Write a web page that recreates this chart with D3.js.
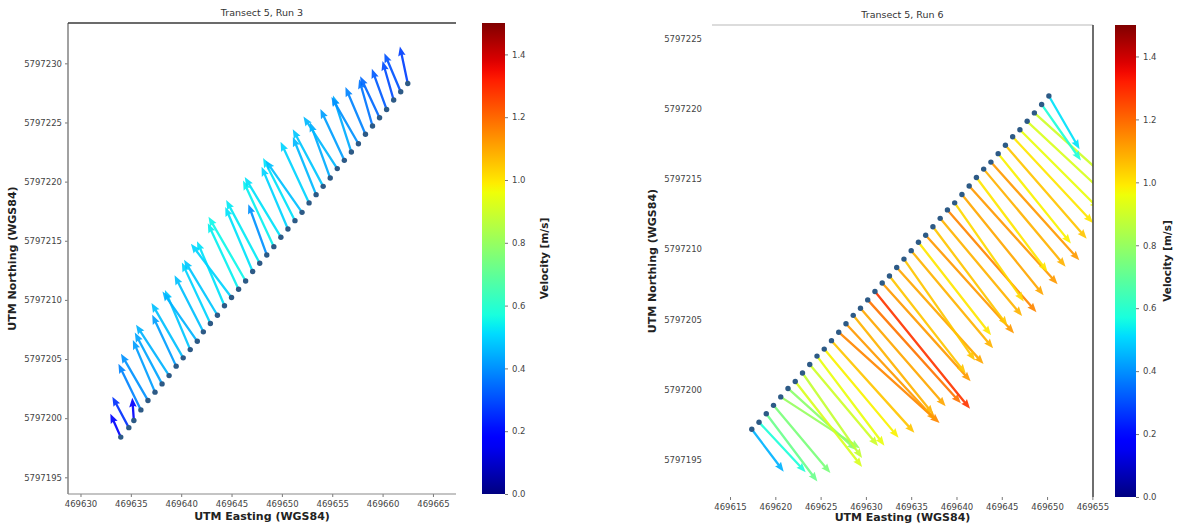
<!DOCTYPE html>
<html>
<head>
<meta charset="utf-8">
<script src="https://cdn.jsdelivr.net/npm/d3@7"></script>
<style>
  html, body { margin: 0; padding: 0; background: #fff; }
  svg { display: block; font-family: "DejaVu Sans", sans-serif; }
</style>
</head>
<body>
<svg id="chart" width="1180" height="529"></svg>
<script>
// ---------------- DATA ----------------
const titles = ["Transect 5, Run 3", "Transect 5, Run 6"];
const xLabel = "UTM Easting (WGS84)";
const yLabel = "UTM Northing (WGS84)";
const cbLabel = "Velocity [m/s]";

// Left panel (Run 3): tail positions (easting, northing), speed [m/s], bearing [deg from north]
const leftEast = [469634.0, 469634.8, 469635.3,
  469636.0, 469636.7, 469637.4, 469638.1, 469638.8, 469639.5, 469640.2, 469640.9, 469641.6, 469642.2,
  469642.9, 469643.6, 469644.3, 469645.0, 469645.7, 469646.4, 469647.1, 469647.8, 469648.5, 469649.2,
  469649.9, 469650.6, 469651.3, 469652.0, 469652.7, 469653.4, 469654.1, 469654.8, 469655.5, 469656.2,
  469656.9, 469657.6, 469658.3, 469659.0, 469659.7, 469660.4, 469661.1, 469661.8, 469662.5];
const leftNorth = [5797198.4, 5797199.2, 5797199.8,
  5797200.7, 5797201.5, 5797202.2, 5797202.9, 5797203.6, 5797204.4, 5797205.1, 5797205.8, 5797206.5, 5797207.3,
  5797208.0, 5797208.7, 5797209.5, 5797210.2, 5797210.9, 5797211.6, 5797212.4, 5797213.1, 5797213.8, 5797214.5,
  5797215.3, 5797216.0, 5797216.7, 5797217.4, 5797218.2, 5797218.9, 5797219.6, 5797220.3, 5797221.1, 5797221.8,
  5797222.5, 5797223.2, 5797224.0, 5797224.7, 5797225.4, 5797226.1, 5797226.9, 5797227.6, 5797228.3];
const leftSpeed = [0.19, 0.26, 0.17,
  0.38, 0.40, 0.42, 0.43, 0.45, 0.42, 0.47, 0.48, 0.45, 0.47,
  0.50, 0.48, 0.52, 0.50, 0.54, 0.55, 0.52, 0.53, 0.40, 0.54,
  0.52, 0.50, 0.52, 0.47, 0.50, 0.46, 0.48, 0.44, 0.46, 0.42,
  0.44, 0.40, 0.38, 0.36, 0.34, 0.32, 0.30, 0.31, 0.28];
const leftBearing = [336, 332, 356,
  334, 330, 337, 332, 327, 335, 330, 337, 325, 333,
  335, 329, 337, 323, 335, 330, 337, 332, 340, 335,
  329, 337, 333, 325, 335, 338, 332, 340, 327, 335,
  342, 330, 337, 344, 335, 340, 344, 337, 348];

// Right panel (Run 6)
const rightEast = [469617.4, 469618.2, 469619.0, 469619.8, 469620.6, 469621.4, 469622.2, 469623.0, 469623.8,
  469624.6, 469625.4, 469626.2, 469627.0, 469627.8, 469628.6, 469629.4, 469630.2, 469631.0, 469631.8,
  469632.6, 469633.4, 469634.2, 469635.0, 469635.8, 469636.6, 469637.4, 469638.2, 469639.0, 469639.8,
  469640.6, 469641.4, 469642.2, 469643.0, 469643.8, 469644.6, 469645.4, 469646.2, 469647.0, 469647.8,
  469648.6, 469649.4, 469650.2];
const rightNorth = [5797197.2, 5797197.7, 5797198.3, 5797198.9, 5797199.5, 5797200.1, 5797200.6, 5797201.2, 5797201.8,
  5797202.4, 5797202.9, 5797203.5, 5797204.1, 5797204.7, 5797205.3, 5797205.8, 5797206.4, 5797207.0, 5797207.6,
  5797208.1, 5797208.7, 5797209.3, 5797209.9, 5797210.5, 5797211.0, 5797211.6, 5797212.2, 5797212.8, 5797213.3,
  5797213.9, 5797214.5, 5797215.1, 5797215.7, 5797216.2, 5797216.8, 5797217.4, 5797218.0, 5797218.5, 5797219.1,
  5797219.7, 5797220.3, 5797220.9];
const rightSpeed = [0.45, 0.58, 0.72, 0.75, 0.80, 0.78, 0.92, 0.88, 0.90,
  0.95, 0.98, 1.05, 1.15, 1.12, 1.08, 1.10, 1.18, 1.28, 1.12,
  1.05, 1.10, 1.05, 1.08, 1.00, 1.12, 1.05, 1.08, 1.15, 1.02,
  1.10, 1.12, 1.00, 1.08, 1.12, 0.98, 1.05, 1.00, 0.95, 0.92,
  0.90, 0.58, 0.52];
const rightBearing = [143, 137, 143, 140, 123, 132, 142, 145, 140,
  143, 140, 138, 132, 137, 141, 139, 138, 141, 138,
  142, 138, 145, 140, 142, 138, 143, 140, 139, 145,
  141, 138, 143, 140, 138, 141, 139, 137, 135, 133,
  132, 145, 150];

// Tick labels
const leftXTicks = [469630, 469635, 469640, 469645, 469650, 469655, 469660, 469665];
const leftYTicks = [5797195, 5797200, 5797205, 5797210, 5797215, 5797220, 5797225, 5797230];
const rightXTicks = [469615, 469620, 469625, 469630, 469635, 469640, 469645, 469650, 469655];
const rightYTicks = [5797195, 5797200, 5797205, 5797210, 5797215, 5797220, 5797225];
const cbTicks = [0.0, 0.2, 0.4, 0.6, 0.8, 1.0, 1.2, 1.4];
const cbRange = [0, 1.5];

// ---------------- STYLE / LAYOUT ----------------
const jetR = [[0, 0], [0.35, 0], [0.66, 1], [0.89, 1], [1, 0.5]];
const jetG = [[0, 0], [0.125, 0], [0.375, 1], [0.64, 1], [0.91, 0], [1, 0]];
const jetB = [[0, 0.5], [0.11, 1], [0.34, 1], [0.65, 0], [1, 0]];
function seg(tbl, t) {
  for (let i = 1; i < tbl.length; i++) {
    if (t <= tbl[i][0]) {
      const [t0, v0] = tbl[i - 1], [t1, v1] = tbl[i];
      return v0 + (v1 - v0) * (t - t0) / (t1 - t0);
    }
  }
  return tbl[tbl.length - 1][1];
}
function jet(t) {
  t = Math.max(0, Math.min(1, t));
  return d3.rgb(255 * seg(jetR, t), 255 * seg(jetG, t), 255 * seg(jetB, t)).formatHex();
}

const svg = d3.select("#chart");
const defs = svg.append("defs");

const panels = [
  {
    east: leftEast, north: leftNorth, speed: leftSpeed, bearing: leftBearing,
    xTicks: leftXTicks, yTicks: leftYTicks, title: titles[0],
    x: d3.scaleLinear().domain([469628.76, 469667.29]).range([68, 456]),
    y: d3.scaleLinear().domain([5797193.59, 5797233.41]).range([494, 23]),
    K: 135, cbX: 482, cbW: 23, cbTop: 23, cbBot: 494,
    spines: { left: "#8a8a8a", top: "#3a3a3a", bottom: "#8a8a8a", right: null },
    yTickSize: 3, yTickPad: 3,
    yLabelX: 13, cbLabelX: 545, xLabelY: 520
  },
  {
    east: rightEast, north: rightNorth, speed: rightSpeed, bearing: rightBearing,
    xTicks: rightXTicks, yTicks: rightYTicks, title: titles[1],
    x: d3.scaleLinear().domain([469613.01, 469655.07]).range([712, 1093]),
    y: d3.scaleLinear().domain([5797192.38, 5797225.95]).range([497, 25]),
    K: 118, cbX: 1115, cbW: 21, cbTop: 25, cbBot: 497,
    spines: { left: null, top: "#d0d0d0", bottom: null, right: "#4a4a4a" },
    yTickSize: 0, yTickPad: 10,
    yLabelX: 653, cbLabelX: 1168, xLabelY: 521
  }
];

function arrowPath(x0, y0, dx, dy) {
  const L = Math.hypot(dx, dy);
  const ux = dx / L, uy = dy / L, nx = -uy, ny = ux;
  const w = 2.3, hw = 7.5, hl = 9.5;
  let sc = 1;
  if (L < hl * 1.4) { sc = L / (hl * 1.4); }
  const hwS = hw * sc, hlS = hl * sc, wS = w;
  const sl = L - hlS;
  const p = d3.path();
  const pt = (a, b) => [x0 + ux * a + nx * b, y0 + uy * a + ny * b];
  const pts = [pt(0, wS / 2), pt(sl + hlS * 0.1, wS / 2), pt(sl, hwS / 2), pt(L, 0),
               pt(sl, -hwS / 2), pt(sl + hlS * 0.1, -wS / 2), pt(0, -wS / 2)];
  p.moveTo(pts[0][0], pts[0][1]);
  for (let i = 1; i < pts.length; i++) p.lineTo(pts[i][0], pts[i][1]);
  p.closePath();
  return p.toString();
}

panels.forEach((P, pi) => {
  const [x0, x1] = P.x.range();
  const [y1, y0] = P.y.range();
  const g = svg.append("g");

  const cid = "clip" + pi;
  defs.append("clipPath").attr("id", cid).append("rect")
    .attr("x", x0).attr("y", y0).attr("width", x1 - x0).attr("height", y1 - y0);

  const pts = P.east.map((e, i) => ({ e, n: P.north[i], s: P.speed[i], b: P.bearing[i] }));
  const plot = g.append("g").attr("clip-path", `url(#${cid})`);
  plot.selectAll("path.arrow").data(pts).join("path")
    .attr("class", "arrow")
    .attr("d", d => {
      const rad = d.b * Math.PI / 180;
      const dx = P.K * d.s * Math.sin(rad);
      const dy = -P.K * d.s * Math.cos(rad);
      return arrowPath(P.x(d.e), P.y(d.n), dx, dy);
    })
    .attr("fill", d => jet((d.s - cbRange[0]) / (cbRange[1] - cbRange[0])))
    .attr("fill-opacity", 0.92);
  plot.selectAll("circle.dot").data(pts).join("circle")
    .attr("class", "dot")
    .attr("cx", d => P.x(d.e)).attr("cy", d => P.y(d.n))
    .attr("r", 2.7).attr("fill", "#2d5a86");

  const ax = g.append("g").attr("transform", `translate(0,${y1})`)
    .call(d3.axisBottom(P.x).tickValues(P.xTicks).tickFormat(d3.format("d")).tickSize(3).tickPadding(4));
  const ay = g.append("g").attr("transform", `translate(${x0},0)`)
    .call(d3.axisLeft(P.y).tickValues(P.yTicks).tickFormat(d3.format("d")).tickSize(P.yTickSize).tickPadding(P.yTickPad));
  [ax, ay].forEach(a => {
    a.select(".domain").remove();
    a.selectAll(".tick line").attr("stroke", "#777");
    a.selectAll(".tick text").attr("font-size", 8.5).attr("fill", "#444")
      .attr("font-family", "DejaVu Sans");
  });

  const sp = P.spines;
  if (sp.left) g.append("line").attr("x1", x0).attr("x2", x0).attr("y1", y0).attr("y2", y1).attr("stroke", sp.left).attr("stroke-width", 1.6);
  if (sp.top) g.append("line").attr("x1", x0).attr("x2", x1).attr("y1", y0).attr("y2", y0).attr("stroke", sp.top).attr("stroke-width", 1.4);
  if (sp.bottom) g.append("line").attr("x1", x0).attr("x2", x1).attr("y1", y1).attr("y2", y1).attr("stroke", sp.bottom).attr("stroke-width", 1.2);
  if (sp.right) g.append("line").attr("x1", x1).attr("x2", x1).attr("y1", y0).attr("y2", y1).attr("stroke", sp.right).attr("stroke-width", 1.6);

  g.append("text").attr("x", (x0 + x1) / 2).attr("y", y0 - 7).attr("text-anchor", "middle")
    .attr("font-size", 9.5).attr("fill", "#333").text(P.title);
  g.append("text").attr("x", (x0 + x1) / 2).attr("y", P.xLabelY).attr("text-anchor", "middle")
    .attr("font-size", 11).attr("font-weight", "bold").attr("fill", "#222").text(xLabel);
  g.append("text").attr("transform", `translate(${P.yLabelX},${(y0 + y1) / 2}) rotate(-90)`)
    .attr("text-anchor", "middle").attr("dominant-baseline", "middle")
    .attr("font-size", 11).attr("font-weight", "bold").attr("fill", "#222").text(yLabel);

  const gid = "grad" + pi;
  const grad = defs.append("linearGradient").attr("id", gid)
    .attr("x1", 0).attr("y1", 1).attr("x2", 0).attr("y2", 0);
  d3.range(0, 1.0001, 0.02).forEach(t => {
    grad.append("stop").attr("offset", t).attr("stop-color", jet(t));
  });
  g.append("rect").attr("x", P.cbX).attr("y", P.cbTop).attr("width", P.cbW).attr("height", P.cbBot - P.cbTop)
    .attr("fill", `url(#${gid})`);
  const cScale = d3.scaleLinear().domain(cbRange).range([P.cbBot, P.cbTop]);
  const ac = g.append("g").attr("transform", `translate(${P.cbX + P.cbW},0)`)
    .call(d3.axisRight(cScale).tickValues(cbTicks).tickFormat(d3.format(".1f")).tickSize(3).tickPadding(4));
  ac.select(".domain").remove();
  ac.selectAll(".tick line").attr("stroke", "#777");
  ac.selectAll(".tick text").attr("font-size", 8.5).attr("fill", "#444").attr("font-family", "DejaVu Sans");
  g.append("text").attr("transform", `translate(${P.cbLabelX},${(P.cbTop + P.cbBot) / 2}) rotate(-90)`)
    .attr("text-anchor", "middle").attr("dominant-baseline", "middle")
    .attr("font-size", 10.5).attr("font-weight", "bold").attr("fill", "#222").text(cbLabel);
});
</script>
</body>
</html>
